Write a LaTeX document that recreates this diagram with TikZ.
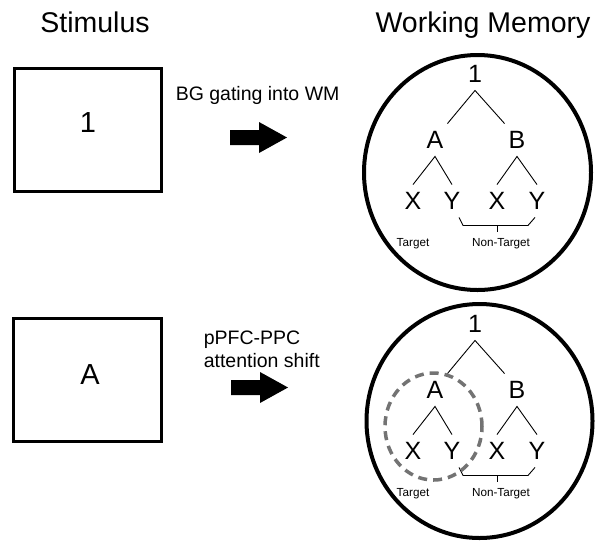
\documentclass[tikz,border=0pt]{standalone}
\usepackage{fontspec}
\setmainfont{Liberation Sans}
\begin{document}
\begin{tikzpicture}[x=1pt, y=-1pt, line width=0.9pt,
  title/.style={anchor=base, font=\fontsize{28.5}{34}\selectfont},
  cue/.style={anchor=base west, font=\fontsize{19.5}{23}\selectfont},
  stimbox/.style={draw, line width=3pt, minimum width=147.5pt, minimum height=123.5pt},
  stimtext/.style={font=\fontsize{29}{35}\selectfont},
  tree/.style={inner sep=0pt, minimum width=24pt, minimum height=32pt, font=\fontsize{25}{30}\selectfont},
  tag/.style={anchor=base, font=\fontsize{11.7}{14}\selectfont},
  wmcircle/.style={line width=4pt},
  focus/.style={line width=3.5pt, draw=black!55, dash pattern=on 9pt off 6pt}]
  \useasboundingbox (0,0) rectangle (602,542);
  % column titles
  \node[title] (stimtitle) at (95,32) {Stimulus};
  \node[title] (wmtitle) at (483,32) {Working Memory};
  % stimuli
  \node[stimbox] (box1) at (87.75,130) {};
  \node[stimbox] (box2) at (87.5,380) {};
  \node[stimtext] (stim1) at (88,123) {1};
  \node[stimtext] (stim2) at (90,375) {A};
  % cues and arrows
  \node[cue] (cue1) at (172,100) {BG gating into WM};
  \node[cue] (cue2a) at (200,344) {pPFC-PPC};
  \node[cue] (cue2b) at (200,367) {attention shift};
  \fill (230,130) -- (259,130) -- (259,122) -- (287,137.5) -- (259,153) -- (259,145) -- (230,145) -- cycle;
  \fill (231,380) -- (260,380) -- (260,372) -- (288,387.5) -- (260,403) -- (260,395) -- (231,395) -- cycle;
  % working memory
  \draw[wmcircle] (477.5,172.5) ellipse [x radius=113.5pt, y radius=117.5pt];
  \draw[wmcircle] (479.5,421) ellipse [x radius=113pt, y radius=117pt];
  \foreach \r/\dy in {1/0, 2/250}{
    \node[tree] (one\r) at (475,74+\dy) {1};
    \node[tree] (a\r) at (435,140+\dy) {A};
    \node[tree] (b\r) at (517,140+\dy) {B};
    \node[tree] (xa\r) at (413,201+\dy) {X};
    \node[tree] (ya\r) at (452,201+\dy) {Y};
    \node[tree] (xb\r) at (497,201+\dy) {X};
    \node[tree] (yb\r) at (537,201+\dy) {Y};
    \draw (a\r.north east) -- (one\r.south) -- (b\r.north west);
    \draw (xa\r.north) -- (a\r.south) -- (ya\r.north);
    \draw (xb\r.north) -- (b\r.south) -- (yb\r.north);
    \draw ([xshift=7pt]ya\r.south) -- ++(4,8) -- ++(65,0) -- ([xshift=-2pt]yb\r.south);
    \draw ([yshift=-8pt]xb\r.south) -- ++(0,7);
    \node[tag] (tgt\r) at (413,246+\dy) {Target};
    \node[tag] (ntgt\r) at (501,246+\dy) {Non-Target};
  }
  \draw[focus] (433.5,426.5) ellipse [x radius=48.5pt, y radius=53.5pt];
\end{tikzpicture}
\end{document}
